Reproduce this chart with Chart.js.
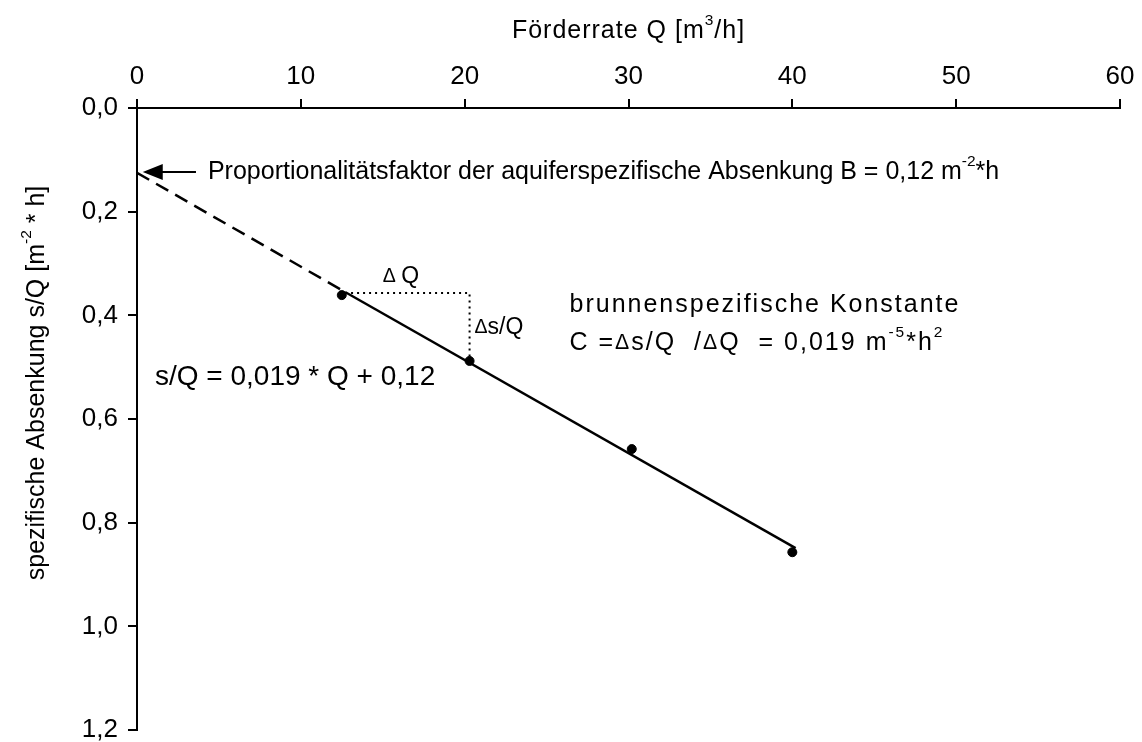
<!DOCTYPE html>
<html>
<head>
<meta charset="utf-8">
<script src="https://cdn.jsdelivr.net/npm/chart.js@4.4.1/dist/chart.umd.min.js"></script>
<style>
  html, body { margin: 0; padding: 0; background: #fff; }
  #wrap { width: 1142px; height: 742px; }
</style>
</head>
<body>
<div id="wrap"><canvas id="chart"></canvas></div>
<script>
const FONT = '"Liberation Sans", Arial, sans-serif';

// Messpunkte: Förderrate Q [m3/h] und spezifische Absenkung s/Q
const foerderrate = [12.5, 20.3, 30.2, 40.0];
const spezAbsenkung = [0.361, 0.488, 0.658, 0.857];

// Ausgleichsgerade (durchgezogen) und Extrapolation bis Q = 0 (gestrichelt)
const geradeQ = [12.7, 40.2];
const geradeS = [0.355, 0.849];
const extrapQ = [0, 12.7];
const extrapS = [0.125, 0.355];

// Steigungsdreieck
const dreieckQ = [12.7, 20.3, 20.3];
const dreieckS = [0.357, 0.357, 0.488];

// Achsen
const qMin = 0, qMax = 60, qStep = 10;
const sMin = 0, sMax = 1.2, sStep = 0.2;

function toPoints(xs, ys) {
    return xs.map((x, i) => ({ x: x, y: ys[i] }));
}

// Text mit Hochstellungen zeichnen
function richText(ctx, parts, x, y, size, align, spacing) {
    ctx.letterSpacing = (spacing || 0) + 'px';
    let total = 0;
    const items = parts.map(p => {
        const s = p.sup ? size * 0.62 : (p.delta ? size * 0.85 : size);
        ctx.font = s + 'px ' + FONT;
        const w = ctx.measureText(p.t).width;
        total += w;
        return { p: p, s: s, w: w };
    });
    let cx = align === 'center' ? x - total / 2 : x;
    ctx.textAlign = 'left';
    ctx.textBaseline = 'middle';
    items.forEach(it => {
        ctx.font = it.s + 'px ' + FONT;
        ctx.fillText(it.p.t, cx, it.p.sup ? y - size * 0.4 : y);
        cx += it.w;
    });
    ctx.letterSpacing = '0px';
}

const annotations = {
    id: 'annotations',
    afterDraw(chart) {
        const ctx = chart.ctx;
        const xs = chart.scales.x, ys = chart.scales.y;
        const px = v => xs.getPixelForValue(v);
        const py = v => ys.getPixelForValue(v);
        const area = chart.chartArea;
        ctx.save();
        ctx.fillStyle = '#000';
        ctx.strokeStyle = '#000';

        // Achsentitel
        richText(ctx, [{ t: 'Förderrate Q [m' }, { t: '3', sup: true }, { t: '/h]' }],
            (area.left + area.right) / 2, 31, 25, 'center', 1);
        ctx.save();
        ctx.translate(37, 383);
        ctx.rotate(-Math.PI / 2);
        richText(ctx, [{ t: 'spezifische Absenkung s/Q [m' }, { t: '-2', sup: true }, { t: ' * h]' }],
            0, 0, 25, 'center', 0);
        ctx.restore();

        // Pfeil auf den Achsenabschnitt
        const ay = py(0.1235);
        const tip = px(0.35);
        ctx.lineWidth = 2;
        ctx.beginPath();
        ctx.moveTo(px(3.6), ay);
        ctx.lineTo(tip + 12, ay);
        ctx.stroke();
        ctx.beginPath();
        ctx.moveTo(tip, ay);
        ctx.lineTo(tip + 20, ay - 8);
        ctx.lineTo(tip + 20, ay + 8);
        ctx.closePath();
        ctx.fill();

        richText(ctx, [
            { t: 'Proportionalitätsfaktor der aquiferspezifische Absenkung B = 0,12 m' },
            { t: '-2', sup: true }, { t: '*h' }
        ], px(4.33), ay, 25, 'left', 0);

        richText(ctx, [{ t: 'Δ ', delta: true }, { t: 'Q' }], px(15.0), py(0.326), 23, 'left', 0);
        richText(ctx, [{ t: 'Δ', delta: true }, { t: 's/Q' }], px(20.6), py(0.424), 23, 'left', 0);

        richText(ctx, [{ t: 'brunnenspezifische Konstante' }], px(26.4), py(0.380), 25, 'left', 2);
        richText(ctx, [
            { t: 'C =' }, { t: 'Δ', delta: true }, { t: 's/Q  /' }, { t: 'Δ', delta: true },
            { t: 'Q  = 0,019 m' }, { t: '-5', sup: true }, { t: '*h' }, { t: '2', sup: true }
        ], px(26.4), py(0.453), 25, 'left', 2);

        richText(ctx, [{ t: 's/Q = 0,019 * Q + 0,12' }], px(1.1), py(0.519), 28, 'left', 0);
        ctx.restore();
    }
};

new Chart(document.getElementById('chart'), {
    type: 'scatter',
    data: {
        datasets: [
            {
                label: 'Extrapolation',
                data: toPoints(extrapQ, extrapS),
                showLine: true,
                borderColor: '#000',
                borderWidth: 2.5,
                borderDash: [14, 8],
                pointRadius: 0
            },
            {
                label: 'Ausgleichsgerade',
                data: toPoints(geradeQ, geradeS),
                showLine: true,
                borderColor: '#000',
                borderWidth: 2.5,
                pointRadius: 0
            },
            {
                label: 'Steigungsdreieck',
                data: toPoints(dreieckQ, dreieckS),
                showLine: true,
                borderColor: '#000',
                borderWidth: 2,
                borderDash: [2, 4],
                pointRadius: 0
            },
            {
                label: 'Messwerte',
                data: toPoints(foerderrate, spezAbsenkung),
                backgroundColor: '#000',
                borderColor: '#000',
                pointRadius: 4.5
            }
        ]
    },
    options: {
        responsive: true,
        maintainAspectRatio: false,
        animation: false,
        layout: { padding: { left: 0, top: 0, right: 22, bottom: 12 } },
        plugins: {
            legend: { display: false },
            tooltip: { enabled: false }
        },
        scales: {
            x: {
                type: 'linear',
                position: 'top',
                min: qMin,
                max: qMax,
                afterFit(scale) {
                    scale.height = 108;
                    scale.paddingLeft = 0;
                    scale.paddingRight = 0;
                },
                ticks: {
                    stepSize: qStep,
                    color: '#000',
                    padding: 7,
                    font: { family: FONT, size: 26 }
                },
                grid: { drawOnChartArea: false, drawTicks: true, tickLength: 9, color: '#000', lineWidth: 2 },
                border: { display: true, color: '#000', width: 2 }
            },
            y: {
                type: 'linear',
                reverse: true,
                min: sMin,
                max: sMax,
                afterFit(scale) {
                    scale.width = 137;
                    scale.paddingTop = 0;
                    scale.paddingBottom = 0;
                },
                ticks: {
                    stepSize: sStep,
                    color: '#000',
                    padding: 10,
                    font: { family: FONT, size: 26 },
                    callback: v => v.toFixed(1).replace('.', ',')
                },
                grid: { drawOnChartArea: false, drawTicks: true, tickLength: 9, color: '#000', lineWidth: 2 },
                border: { display: true, color: '#000', width: 2 }
            }
        }
    },
    plugins: [annotations]
});
</script>
</body>
</html>
